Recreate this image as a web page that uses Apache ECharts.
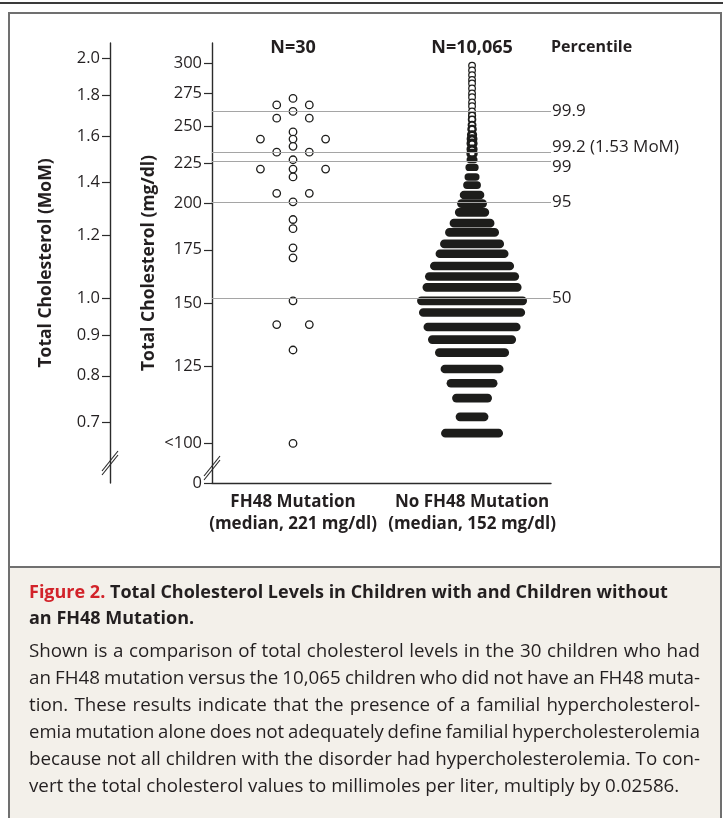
<!DOCTYPE html>
<html><head><meta charset="utf-8">
<script src="https://cdn.jsdelivr.net/npm/echarts@6/dist/echarts.min.js"></script>
<style>html,body{margin:0;padding:0;background:#fff}#c{width:723px;height:818px}</style>
</head><body><div id="c"></div>
<script>
// ---------------- data ----------------
const categories = ['FH48 Mutation', 'No FH48 Mutation'];
const categoryMedians = ['(median, 221 mg/dl)', '(median, 152 mg/dl)'];
const groupSizes = ['N=30', 'N=10,065'];

const mgTicks = [100, 125, 150, 175, 200, 225, 250, 275, 300];
const mgTickLabels = ['<100', '125', '150', '175', '200', '225', '250', '275', '300'];
const momTicks = [0.7, 0.8, 0.9, 1.0, 1.2, 1.4, 1.6, 1.8, 2.0];
const momReference = 152; // mg/dl that equals 1.0 MoM

// FH48 carriers (mg/dl) and their column in the dot plot (-2..2)
const fh48Values = [271, 266, 266, 261, 256, 256, 246, 241, 241, 241, 236, 232, 232, 227, 221,
                    221, 221, 216, 206, 206, 201, 191, 186, 176, 171, 151, 141, 141, 131, 100];
const fh48Slots  = [0, -1, 1, 0, -1, 1, 0, -2, 0, 2, 0, -1, 1, 0, -2,
                    0, 2, 0, -1, 1, 0, 0, 0, 0, 0, 0, -1, 1, 0, 0];

// Non-carriers: dot-plot rows (mg/dl) and number of children in each row
const noFh48Values = [298, 294, 290, 286, 283, 279, 275, 272, 268, 265,
                      261, 258, 255, 251, 248, 244, 241, 238, 234, 231,
                      227, 222, 216, 211, 205, 200, 195, 189, 184, 178, 173, 167,
                      162, 157, 151, 146, 140, 135, 130, 124, 119, 114, 108, 103];
const noFh48Counts = [1, 1, 1, 1, 1, 1, 1, 1, 1, 1,
                      1, 2, 3, 4, 6, 8, 10, 12, 12, 14,
                      34, 51, 64, 85, 136, 179, 217, 306, 383, 468, 544, 638,
                      723, 765, 857, 825, 748, 672, 553, 459, 357, 264, 204, 451];

const percentileNames = ['99.9', '99.2 (1.53 MoM)', '99', '95', '50'];
const percentileValues = [261, 232, 226, 201, 152];

const captionTitle = ['Total Cholesterol Levels in Children with and Children without', 'an FH48 Mutation.'];
const captionBody = [
  'Shown is a comparison of total cholesterol levels in the 30 children who had',
  'an FH48 mutation versus the 10,065 children who did not have an FH48 muta-',
  'tion. These results indicate that the presence of a familial hypercholesterol-',
  'emia mutation alone does not adequately define familial hypercholesterolemia',
  'because not all children with the disorder had hypercholesterolemia. To con-',
  'vert the total cholesterol values to millimoles per liter, multiply by 0.02586.'
];

// ---------------- layout / style ----------------
const FONT = '"Open Sans", "Noto Sans", sans-serif';
const INK = '#231f20';
const AXIS = '#2b2b2b';
const gridLeft = 212, gridTop = 43, gridRight = 551, gridBottom = 483;
const momOffset = 102;
const mgFloor = 89.2, mgCeil = 318.1;   // axis extent; floor is the broken "0"
const xMin = 0.5475, xMax = 2.441;
const slotStep = 0.091;
const childWidth = 0.00066;             // x-axis units per child in a row
const dotD = 6.5, dotGrow = 2.2;

const chart = echarts.init(document.getElementById('c'));

function renderRow(params, api) {
  const count = api.value(2);
  const c = api.coord([api.value(0), api.value(1)]);
  const solid = count >= 16;
  const h = dotD + (solid ? dotGrow * Math.min(1, count / 150) : 0);
  const w = h + api.size([count * childWidth, 0])[0];
  return {
    type: 'rect',
    shape: { x: c[0] - w / 2, y: c[1] - h / 2, width: w, height: h, r: h / 2 },
    style: solid ? { fill: '#1d1d1b' }
                 : { fill: '#fff', stroke: '#1d1d1b', lineWidth: Math.min(h / 2, 1.25 + (count - 1) * 0.22) }
  };
}

// caption text (justified lines; a line that cannot fit is set slightly smaller)
const mctx = document.createElement('canvas').getContext('2d');
function bodyLine(text, y, justify, left, right, size) {
  if (!justify) {
    return [{ type: 'text', x: left, y, z: 10,
      style: { text, fill: INK, fontSize: size, fontFamily: FONT, verticalAlign: 'middle' } }];
  }
  const words = text.split(' ');
  let s = size, ws, gap;
  for (;;) {
    mctx.font = s + 'px "Open Sans"';
    ws = words.map(w => mctx.measureText(w).width);
    gap = (right - left - ws.reduce((a, b) => a + b, 0)) / (words.length - 1);
    if (gap >= s * 0.2 || s <= 12) break;
    s -= 0.25;
  }
  let x = left;
  return words.map((w, i) => {
    const el = { type: 'text', x, y, z: 10,
      style: { text: w, fill: INK, fontSize: s, fontFamily: FONT, verticalAlign: 'middle' } };
    x += ws[i] + gap;
    return el;
  });
}

function breakMark(x, y) {
  return {
    type: 'group', x, y, z: 20,
    children: [
      { type: 'polygon', shape: { points: [[-8, 6], [8, -14], [8, -10], [-8, 10]] }, style: { fill: '#fff' } },
      { type: 'line', shape: { x1: -8, y1: 6, x2: 8, y2: -14 }, style: { stroke: AXIS, lineWidth: 1.2 } },
      { type: 'line', shape: { x1: -8, y1: 10, x2: 8, y2: -10 }, style: { stroke: AXIS, lineWidth: 1.2 } }
    ]
  };
}

const graphics = [
  { type: 'rect', z: 0, shape: { x: 0, y: 2, width: 723, height: 2 }, style: { fill: '#3a3a3a' } },
  { type: 'rect', z: 0, shape: { x: 10, y: 567, width: 710, height: 260 }, style: { fill: '#f3f0ea' } },
  { type: 'rect', z: 1, shape: { x: 9, y: 13, width: 712, height: 820 }, style: { fill: 'none', stroke: '#707070', lineWidth: 2 } },
  { type: 'line', z: 1, shape: { x1: 9, y1: 567, x2: 721, y2: 567 }, style: { stroke: '#707070', lineWidth: 2 } },
  { type: 'text', x: gridRight, y: 47, z: 10, style: { text: 'Percentile', fill: INK, fontSize: 16, fontWeight: 'bold', fontFamily: FONT, verticalAlign: 'middle' } },
  breakMark(gridLeft - momOffset, gridBottom - 18),
  breakMark(gridLeft, gridBottom - 13),
  { type: 'text', x: 29, y: 593, z: 10, style: {
      text: '{r|Figure 2.} ' + captionTitle[0], fill: INK, fontSize: 18, fontWeight: 'bold', fontFamily: FONT, verticalAlign: 'middle',
      rich: { r: { fill: '#d2232a', fontSize: 18, fontWeight: 'bold', fontFamily: FONT } } } },
  { type: 'text', x: 29, y: 619, z: 10, style: { text: captionTitle[1], fill: INK, fontSize: 18, fontWeight: 'bold', fontFamily: FONT, verticalAlign: 'middle' } }
];
captionBody.forEach((t, i) => {
  bodyLine(t, 652 + i * 27, i < captionBody.length - 1, 29, 700, 18.75).forEach(e => graphics.push(e));
});

const option = {
  animation: false,
  backgroundColor: '#fff',
  textStyle: { fontFamily: FONT },
  grid: { left: gridLeft, top: gridTop, width: gridRight - gridLeft, height: gridBottom - gridTop },
  xAxis: [{
    type: 'value', min: xMin, max: xMax, position: 'bottom',
    axisLine: { show: true, lineStyle: { color: AXIS, width: 1.4 } },
    axisTick: { show: false }, splitLine: { show: false },
    axisLabel: {
      customValues: [1, 2], margin: 8, color: INK, fontSize: 17, fontWeight: 'bold', lineHeight: 22, fontFamily: FONT,
      formatter: v => categories[Math.round(v) - 1] + '\n' + categoryMedians[Math.round(v) - 1]
    }
  }, {
    type: 'value', min: xMin, max: xMax, position: 'top',
    axisLine: { show: false }, axisTick: { show: false }, splitLine: { show: false },
    axisLabel: { customValues: [1, 2], inside: true, margin: -4, color: INK, fontSize: 18, fontWeight: 'bold', fontFamily: FONT,
      formatter: v => groupSizes[Math.round(v) - 1] }
  }],
  yAxis: [{
    type: 'log', logBase: 10, min: mgFloor, max: mgCeil, position: 'left',
    axisLine: { show: true, lineStyle: { color: AXIS, width: 1.4 } },
    axisTick: { show: true, length: 8, customValues: [mgFloor].concat(mgTicks), lineStyle: { color: AXIS, width: 1.2 } },
    splitLine: { show: false },
    axisLabel: { customValues: [mgFloor].concat(mgTicks), margin: 10, color: INK, fontSize: 16.5, fontFamily: FONT,
      formatter: v => { const i = mgTicks.indexOf(v); return i < 0 ? '0' : mgTickLabels[i]; } },
    name: 'Total Cholesterol (mg/dl)', nameLocation: 'middle', nameGap: 54,
    nameTextStyle: { color: INK, fontSize: 17.5, fontWeight: 'bold', fontFamily: FONT }
  }, {
    type: 'log', logBase: 10, min: mgFloor / momReference, max: mgCeil / momReference, position: 'left', offset: momOffset,
    axisLine: { show: true, lineStyle: { color: AXIS, width: 1.4 } },
    axisTick: { show: true, length: 8, customValues: momTicks, lineStyle: { color: AXIS, width: 1.2 } },
    splitLine: { show: false },
    axisLabel: { customValues: momTicks, margin: 10, color: INK, fontSize: 16.5, fontFamily: FONT, formatter: v => v.toFixed(1) },
    name: 'Total Cholesterol (MoM)', nameLocation: 'middle', nameGap: 55,
    nameTextStyle: { color: INK, fontSize: 17.5, fontWeight: 'bold', fontFamily: FONT }
  }],
  series: [{
    name: categories[1], type: 'custom', xAxisIndex: 0, yAxisIndex: 0, z: 2,
    renderItem: renderRow,
    data: noFh48Values.map((v, i) => [2, v, noFh48Counts[i]])
  }, {
    name: categories[0], type: 'scatter', xAxisIndex: 0, yAxisIndex: 0, z: 3,
    symbol: 'circle', symbolSize: 7.5,
    itemStyle: { color: '#fff', borderColor: '#1d1d1b', borderWidth: 1.3, opacity: 1 },
    data: fh48Values.map((v, i) => [1 + fh48Slots[i] * slotStep, v])
  }, {
    name: 'Percentile', type: 'line', xAxisIndex: 0, yAxisIndex: 0, z: 5, data: [],
    markLine: {
      silent: true, symbol: ['none', 'none'],
      lineStyle: { color: '#a5a5a5', width: 1, type: 'solid' },
      label: { show: true, position: 'end', distance: 1, formatter: '{b}', color: INK, fontSize: 17, fontFamily: FONT },
      data: percentileValues.map((v, i) => ({
        yAxis: v, name: percentileNames[i],
        label: { offset: [0, percentileNames[i].startsWith('99.2') ? -5 : (percentileNames[i] === '99' ? 6 : 0)] }
      }))
    }
  }],
  graphic: graphics
};
chart.setOption(option);
</script></body></html>
